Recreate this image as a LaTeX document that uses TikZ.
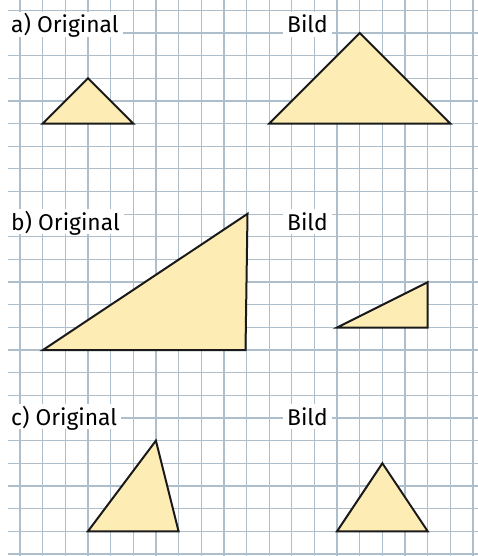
\documentclass[tikz,border=0pt]{standalone}
\usepackage{fontspec}
\setmainfont{Fira Sans}
\definecolor{gridc}{HTML}{AEBFCB}
\definecolor{fillc}{HTML}{FDEDB5}
\definecolor{linec}{HTML}{1A1A1A}
\begin{document}
\begin{tikzpicture}[x=1pt,y=-1pt,
  gridline/.style={gridc,line width=1.3pt},
  tri/.style={draw=linec,fill=fillc,line width=2pt,line join=miter},
  lbl/.style={fill=white,anchor=base west,font=\fontsize{22.8}{22.8}\selectfont,
    inner xsep=4pt,inner ysep=0pt,text height=21pt,text depth=4pt}]
\useasboundingbox (0,0) rectangle (478,556);
% grid
\foreach \i in {0,...,20} \draw[gridline] ({20+22.65*\i},0) -- ({20+22.65*\i},556);
\foreach \j in {0,...,24} \draw[gridline] (8,{10.3+22.65*\j}) -- (478,{10.3+22.65*\j});
% a)
\draw[tri] (42.65,123.55) -- (87.95,78.25) -- (133.25,123.55) -- cycle;
\draw[tri] (269.15,123.55) -- (359.75,32.95) -- (450.35,123.55) -- cycle;
% b)
\draw[tri] (42.65,350.2) -- (247.5,213.85) -- (245.5,350.2) -- cycle;
\draw[tri] (337.1,327.55) -- (427.7,282.25) -- (427.7,327.55) -- cycle;
% c)
\draw[tri] (87.95,531.25) -- (155.9,440.65) -- (178.55,531.25) -- cycle;
\draw[tri] (337.1,531.25) -- (382.4,463.3) -- (427.7,531.25) -- cycle;
% labels
\node[lbl] (la) at (7,33) {a) Original};
\node[lbl] (lab) at (283,33) {Bild};
\node[lbl] (lb) at (7,230) {b) Original};
\node[lbl] (lbb) at (283,230) {Bild};
\node[lbl] (lc) at (7,425) {c) Original};
\node[lbl] (lcb) at (283,425) {Bild};
\end{tikzpicture}
\end{document}
